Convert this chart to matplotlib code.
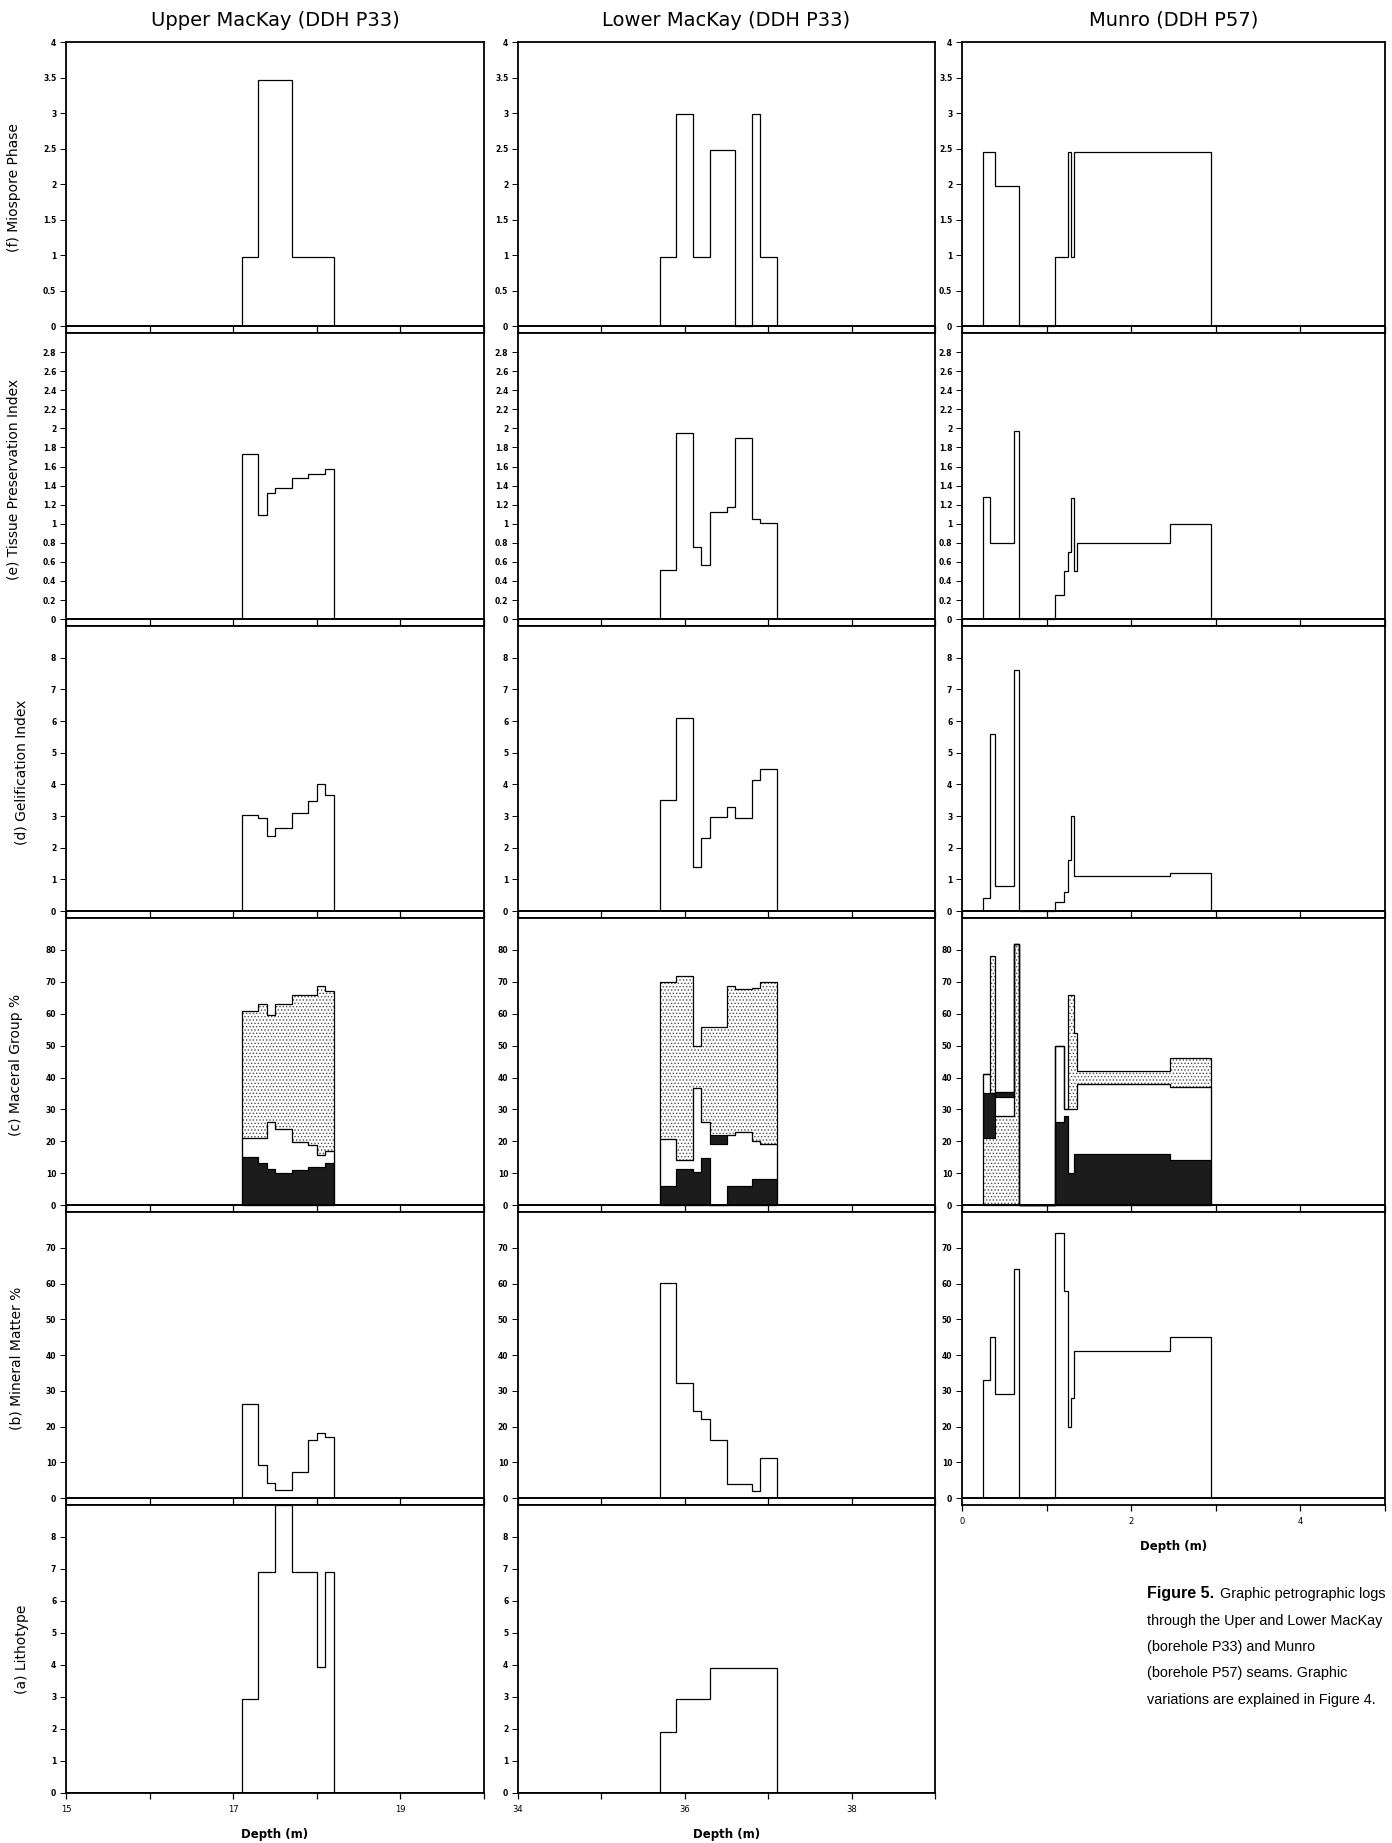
import numpy as np
import matplotlib
matplotlib.use('Agg')
import matplotlib.pyplot as plt

plt.rcParams['font.family'] = ['DejaVu Sans']
plt.rcParams['hatch.linewidth'] = 0.6

# Upper MacKay seam, borehole P33 (depth in m)
upper_edges = [17.1, 17.3, 17.4, 17.5, 17.7, 17.9, 18.0, 18.1, 18.2]
upper_miospore_edges = [17.1, 17.3, 17.7, 18.2]
upper_miospore = [0.97, 3.46, 0.97]
upper_tpi = [1.73, 1.09, 1.32, 1.37, 1.48, 1.52, 1.52, 1.57]
upper_gi = [3.05, 2.95, 2.37, 2.61, 3.10, 3.47, 4.01, 3.68]
upper_stip_low = [0, 0, 0, 0, 0, 0, 0, 0]
upper_inert = [15.0, 13.1, 11.2, 10.2, 11.0, 12.0, 12.0, 13.1]
upper_lipt = [20.9, 20.9, 25.9, 23.8, 19.7, 18.8, 15.8, 17.0]
upper_extra = [20.9, 20.9, 25.9, 23.8, 19.7, 18.8, 15.8, 17.0]
upper_vitr = [61.0, 63.1, 59.6, 63.0, 65.9, 65.9, 68.8, 67.0]
upper_mineral = [26.4, 9.3, 4.2, 2.3, 7.3, 16.3, 18.3, 17.1]
upper_litho_edges = [17.1, 17.3, 17.5, 17.7, 18.0, 18.1, 18.2]
upper_litho = [2.95, 6.92, 9.0, 6.92, 3.95, 6.92]

# Lower MacKay seam, borehole P33
lower_edges = [35.7, 35.9, 36.1, 36.2, 36.3, 36.5, 36.6, 36.8, 36.9, 37.1]
lower_miospore = [0.97, 2.98, 0.97, 0.97, 2.48, 2.48, 0.0, 2.98, 0.97]
lower_tpi = [0.51, 1.95, 0.76, 0.57, 1.12, 1.18, 1.90, 1.05, 1.01]
lower_gi = [3.50, 6.11, 1.38, 2.31, 2.98, 3.29, 2.95, 4.15, 4.48]
lower_stip_low = [0, 0, 0, 0, 0, 0, 0, 0, 0]
lower_inert = [6.1, 11.2, 10.3, 14.9, 0.0, 6.0, 6.0, 8.1, 8.1]
lower_lipt = [20.8, 14.2, 36.7, 25.9, 19.1, 22.0, 22.8, 20.2, 19.1]
lower_extra = [20.8, 14.2, 36.7, 25.9, 22.0, 22.0, 22.8, 20.2, 19.1]
lower_vitr = [70.0, 71.9, 49.9, 55.9, 55.9, 68.6, 67.7, 68.2, 69.8]
lower_mineral = [60.2, 32.2, 24.3, 22.1, 16.2, 3.9, 3.9, 2.1, 11.2]
lower_litho_edges = [35.7, 35.9, 36.3, 37.1]
lower_litho = [1.91, 2.93, 3.92]

# Munro seam, borehole P57
munro_edges = [0.25, 0.33, 0.39, 0.61, 0.67, 1.10, 1.21, 1.25, 1.29, 1.32, 1.36, 1.42, 2.46, 2.94]
munro_miospore = [2.45, 2.45, 1.97, 1.97, 0.0, 0.97, 0.97, 2.45, 0.97, 2.45, 2.45, 2.45, 2.45]
munro_tpi = [1.28, 0.80, 0.80, 1.97, 0.0, 0.25, 0.50, 0.70, 1.27, 0.50, 0.80, 0.80, 1.0]
munro_gi = [0.40, 5.6, 0.80, 7.6, 0.0, 0.30, 0.60, 1.60, 3.0, 1.10, 1.10, 1.10, 1.20]
munro_stip_low = [21.0, 21.0, 28.0, 82.0, 0.0, 0.0, 0.0, 0.0, 0.0, 0.0, 0.0, 0.0, 0.0]
munro_inert = [35.0, 35.0, 28.0, 82.0, 0.0, 26.0, 28.0, 10.0, 10.0, 16.0, 16.0, 16.0, 14.0]
munro_lipt = [41.0, 35.0, 34.0, 82.0, 0.0, 50.0, 30.0, 30.0, 30.0, 30.0, 38.0, 38.0, 37.0]
munro_extra = [41.0, 35.0, 35.5, 82.0, 0.0, 50.0, 30.0, 30.0, 30.0, 30.0, 38.0, 38.0, 37.0]
munro_vitr = [41.0, 78.0, 35.5, 82.0, 0.0, 50.0, 30.0, 66.0, 66.0, 54.0, 42.0, 42.0, 46.0]
munro_mineral = [33.0, 45.0, 29.0, 64.0, 0.0, 74.0, 58.0, 20.0, 28.0, 41.0, 41.0, 41.0, 45.0]

W, H = 1392, 1843
fig = plt.figure(figsize=(W / 100, H / 100), dpi=100)

col_left = [66, 518, 962]
col_width = [418, 417, 423]
row_top = [42, 333, 626, 918, 1212, 1505]
row_bottom = [333, 626, 918, 1212, 1505, 1793]

row_ylabels = ['(f) Miospore Phase', '(e) Tissue Preservation Index',
               '(d) Gelification Index', '(c) Maceral Group %',
               '(b) Mineral Matter %', '(a) Lithotype']
row_ymax = [4, 3, 9, 90, 80, 9]
row_ticks = [np.arange(0, 4.01, 0.5), np.arange(0, 2.81, 0.2), np.arange(0, 9),
             np.arange(0, 81, 10), np.arange(0, 71, 10), np.arange(0, 9)]

col_titles = ['Upper MacKay (DDH P33)', 'Lower MacKay (DDH P33)', 'Munro (DDH P57)']
col_xlim = [(15, 20), (34, 39), (0, 5)]
col_xlabels = [[15, 17, 19], [34, 36, 38], [0, 2, 4]]


def make_axes(col, row, bottom_row):
    l = col_left[col]
    w = col_width[col]
    t = row_top[row]
    b = row_bottom[row]
    ax = fig.add_axes([l / W, 1 - b / H, w / W, (b - t) / H])
    x0, x1 = col_xlim[col]
    ax.set_xlim(x0, x1)
    ymax = row_ymax[row]
    ax.set_xticks(np.arange(x0, x1 + 0.01, 1))
    if bottom_row:
        if row == 5:
            ax.set_ylim(0, ymax)
        else:
            ax.set_ylim(-0.024 * ymax, ymax)
        ax.set_xticklabels([str(int(v)) if v in col_xlabels[col] else ''
                            for v in np.arange(x0, x1 + 0.01, 1)])
        ax.tick_params(axis='x', direction='out', length=4, width=0.9,
                       labelsize=6, pad=5)
        ax.set_xlabel('Depth (m)', fontsize=8.5, fontweight='bold', labelpad=10)
    else:
        ax.set_ylim(-0.024 * ymax, ymax)
        ax.set_xticklabels([])
        ax.tick_params(axis='x', direction='in', length=5.2, width=0.9)
    ax.set_yticks(row_ticks[row])
    ax.set_yticklabels(['%g' % v for v in row_ticks[row]])
    ax.tick_params(axis='y', direction='out', length=4, width=0.7,
                   labelsize=5.5, pad=3)
    for lab in ax.get_yticklabels():
        lab.set_fontweight('bold')
    ax.axhline(0, color='k', lw=1.4, zorder=5)
    for s in ax.spines.values():
        s.set_linewidth(1.3)
    if col == 0:
        ax.set_ylabel(row_ylabels[row], fontsize=10, labelpad=16)
    return ax


def step_log(ax, edges, values):
    ax.stairs(values, edges, baseline=0, color='k', lw=0.9, zorder=4)


def maceral_log(ax, edges, stip_low, inert, lipt, extra, vitr):
    zeros = np.zeros(len(inert))
    dots = dict(fill=True, facecolor='white', edgecolor='0.3', hatch='.....',
                lw=0, zorder=2)
    ax.stairs(stip_low, edges, baseline=zeros, **dots)
    ax.stairs(vitr, edges, baseline=extra, **dots)
    ax.stairs(inert, edges, baseline=stip_low, fill=True, color='#1c1c1c', zorder=3)
    ax.stairs(extra, edges, baseline=lipt, fill=True, color='#1c1c1c', zorder=3)
    ax.stairs(vitr, edges, baseline=zeros, color='k', lw=0.9, zorder=4)
    ax.stairs(inert, edges, baseline=stip_low, color='k', lw=0.8, zorder=4)
    ax.stairs(extra, edges, baseline=lipt, color='k', lw=0.8, zorder=4)
    ax.stairs(lipt, edges, baseline=inert, color='k', lw=0.8, zorder=4)


columns = [
    (upper_edges, upper_miospore_edges, upper_miospore, upper_tpi, upper_gi,
     upper_stip_low, upper_inert, upper_lipt, upper_extra, upper_vitr,
     upper_mineral, upper_litho_edges, upper_litho),
    (lower_edges, lower_edges, lower_miospore, lower_tpi, lower_gi,
     lower_stip_low, lower_inert, lower_lipt, lower_extra, lower_vitr,
     lower_mineral, lower_litho_edges, lower_litho),
    (munro_edges, munro_edges, munro_miospore, munro_tpi, munro_gi,
     munro_stip_low, munro_inert, munro_lipt, munro_extra, munro_vitr,
     munro_mineral, None, None),
]

for c, (edges, mio_edges, mio, tpi, gi, stip_low, inert, lipt, extra, vitr,
        mineral, litho_edges, litho) in enumerate(columns):
    nrows = 6 if litho is not None else 5
    axes = [make_axes(c, r, r == nrows - 1) for r in range(nrows)]
    step_log(axes[0], mio_edges, mio)
    step_log(axes[1], edges, tpi)
    step_log(axes[2], edges, gi)
    maceral_log(axes[3], edges, stip_low, inert, lipt, extra, vitr)
    step_log(axes[4], edges, mineral)
    if litho is not None:
        step_log(axes[5], litho_edges, litho)
    cx = (col_left[c] + col_width[c] / 2) / W
    fig.text(cx, 1 - 20 / H, col_titles[c], ha='center', va='center', fontsize=14)

# Caption
cap = dict(family=['Liberation Sans', 'DejaVu Sans'], va='baseline')
fig.text(1147 / W, 1 - 1598 / H, 'Figure 5.', fontweight='bold', fontsize=11.5, **cap)
fig.text(1386 / W, 1 - 1598 / H, 'Graphic petrographic logs', ha='right',
         fontsize=10.4, **cap)
cap_lines = ['through the Uper and Lower MacKay', '(borehole P33) and Munro',
             '(borehole P57) seams. Graphic', 'variations are explained in Figure 4.']
for i, line in enumerate(cap_lines):
    fig.text(1147 / W, 1 - (1624.5 + 26.5 * i) / H, line, fontsize=10.4, **cap)

fig.savefig('out.png', dpi=100)
